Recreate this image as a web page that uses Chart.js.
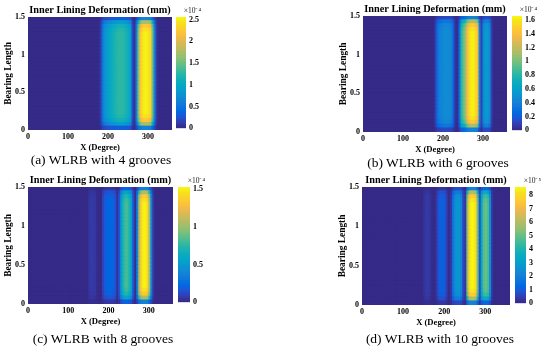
<!DOCTYPE html>
<html><head><meta charset="utf-8">
<script src="https://cdn.jsdelivr.net/npm/chart.js@4.4.1/dist/chart.umd.min.js"></script>
<style>
html,body{margin:0;padding:0;background:#fff;}
#wrap{position:relative;width:550px;height:352px;overflow:hidden;background:#fff;}
#wrap canvas{position:absolute;}
.cap{position:absolute;font-family:"Liberation Serif",serif;font-size:13.5px;color:#000;white-space:nowrap;transform:translate(-50%,-50%);}
</style></head><body><div id="wrap"></div>
<script>
// ---------------- DATA ----------------
const xDegrees = [2.5,7.5,12.5,17.5,22.5,27.5,32.5,37.5,42.5,47.5,52.5,57.5,
  62.5,67.5,72.5,77.5,82.5,87.5,92.5,97.5,102.5,107.5,112.5,117.5,
  122.5,127.5,132.5,137.5,142.5,147.5,152.5,157.5,162.5,167.5,172.5,177.5,
  182.5,187.5,192.5,197.5,202.5,207.5,212.5,217.5,222.5,227.5,232.5,237.5,
  242.5,247.5,252.5,257.5,262.5,267.5,272.5,277.5,282.5,287.5,292.5,297.5,
  302.5,307.5,312.5,317.5,322.5,327.5,332.5,337.5,342.5,347.5,352.5,357.5];
const bearingRowStart = [0,0.05,0.1,0.15,0.2,0.25,0.3,0.35,0.4,0.45,0.5,0.55,0.6,0.65,0.7,
  0.75,0.8,0.85,0.9,0.95,1,1.05,1.1,1.15,1.2,1.25,1.3,1.35,1.4,1.45];
const bearingProfile = [0.25,0.7,0.9,0.97,1,1,1,1,1,1,1,1,1,1,1,
  1,1,1,1,1,1,1,1,1,1,1,0.97,0.9,0.7,0.25];
// deformation along X (colorbar units), one value per 5 degrees
const grooves4 = [0,0,0,0,0,0,0,0,0,0,0,0,
  0,0,0,0,0,0,0,0,0,0,0,0,
  0,0,0,0,0,0,0,0,0,0,0,0,
  0.1,0.5,0.75,0.85,0.95,1.0,1.1,1.15,1.2,1.25,1.25,1.25,
  1.2,1.15,1.05,0.9,0.2,0.05,0.6,1.6,2.2,2.45,2.5,2.5,
  2.45,2.3,1.5,0.6,0.1,0,0,0,0,0,0,0];
const grooves6 = [0,0,0,0,0,0,0,0,0,0,0,0,
  0,0,0,0,0,0,0,0,0,0,0,0,
  0,0,0,0,0,0,0,0,0,0,0,0,
  0.1,0.3,0.38,0.42,0.45,0.47,0.47,0.45,0.4,0.2,0.03,0.02,
  0.3,0.8,0.95,1.1,1.4,1.55,1.62,1.62,1.55,1.4,0.4,0.1,
  0.45,0.55,0.55,0.45,0.1,0,0,0,0,0,0,0];
const grooves8 = [0,0,0,0,0,0,0,0,0,0,0,0,
  0,0,0,0,0,0,0,0,0,0,0,0,
  0,0,0,0,0,0,0.04,0.06,0.06,0.05,0.01,0,
  0,0.1,0.18,0.2,0.22,0.22,0.2,0.15,0.03,0.15,0.5,0.7,
  0.8,0.8,0.72,0.55,0.15,0.02,0.4,1.1,1.4,1.5,1.5,1.4,
  1.0,0.35,0.05,0,0,0,0,0,0,0,0,0];
const grooves10 = [0,0,0,0,0,0,0,0,0,0,0,0,
  0,0,0,0,0,0,0,0,0,0,0,0,
  0,0,0,0,0,0,0.2,0.35,0.35,0.2,0.05,0,
  0.3,0.9,1.1,1.1,1.0,0.4,0.05,0.3,1.6,2.4,2.7,2.7,
  2.2,0.6,0.3,5.5,8.0,8.5,8.5,8.0,5.0,0.8,3.5,4.8,
  5.0,4.6,2.5,0.3,0,0,0,0,0,0,0,0];
const colorbarMax = [2.56, 1.66, 1.53, 8.6];
const colorbarTicks4 = [0,0.5,1,1.5,2,2.5];
const colorbarTicks6 = [0,0.2,0.4,0.6,0.8,1,1.2,1.4,1.6];
const colorbarTicks8 = [0,0.5,1,1.5];
const colorbarTicks10 = [0,1,2,3,4,5,6,7,8];
const colorbarExponent = ['×10⁻⁴','×10⁻⁴','×10⁻⁴','×10⁻⁵'];
const xTickValues = [0,100,200,300];
const yTickValues = [0,0.5,1,1.5];
const plotTitle = 'Inner Lining Deformation (mm)';
const xTitle = 'X (Degree)';
const yTitle = 'Bearing Length';
const captions = ['(a) WLRB with 4 grooves','(b) WLRB with 6 grooves','(c) WLRB with 8 grooves','(d) WLRB with 10 grooves'];

// ---------------- STYLE / LAYOUT ----------------
const SERIF = '"Liberation Serif", "Times New Roman", serif';
const PARULA = [[53,42,135],[53,61,173],[32,83,212],[2,104,225],[13,117,220],[20,129,214],[16,142,210],[7,156,207],[6,167,198],[15,174,185],[37,181,169],[66,187,152],[101,190,134],[135,191,119],[165,190,107],[192,188,96],[217,186,86],[241,185,74],[255,195,55],[250,211,42],[245,228,29],[249,251,14]];
function parula(t){
  t = Math.max(0, Math.min(1, t));
  const f = t*(PARULA.length-1);
  const i = Math.min(Math.floor(f), PARULA.length-2);
  const u = f - i, a = PARULA[i], b = PARULA[i+1];
  return 'rgb(' + [0,1,2].map(k => Math.round(a[k]+(b[k]-a[k])*u)).join(',') + ')';
}
const layouts = [
  {L:28, R:172, T:17, B:130, cbL:176, cbR:186, capX:101, capY:160},
  {L:363,R:507, T:16, B:132, cbL:512, cbR:522, capX:438, capY:163},
  {L:28, R:173, T:187,B:304, cbL:178, cbR:190, capX:103, capY:339},
  {L:362,R:510, T:187,B:305, cbL:515, cbR:526, capX:440, capY:339}
];
const wrap = document.getElementById('wrap');
function makeCanvas(left, top, w, h){
  const c = document.createElement('canvas');
  c.width = w; c.height = h;
  c.style.left = left+'px'; c.style.top = top+'px';
  c.style.width = w+'px'; c.style.height = h+'px';
  wrap.appendChild(c);
  return c;
}
const TITLE_H = 17, YAX_W = 28, XAX_H = 24;
const tickFont = {family:SERIF, size:8, weight:'bold'};
const fmt = v => String(Math.round(v*100)/100);

function heatmap(p, profile, cmax){
  const left = p.L - YAX_W, top = p.T - TITLE_H;
  const w = (p.R - left) + YAX_W;
  const h = (p.B - top) + XAX_H;
  const datasets = bearingRowStart.map((y0, j) => ({
    data: xDegrees.map(x => ({x: x, y: [y0, y0 + 0.05]})),
    backgroundColor: profile.map(v => parula(v*bearingProfile[j]/cmax)),
    borderWidth: 0, inflateAmount: 0.5, barPercentage: 1, categoryPercentage: 1, grouped: false
  }));
  new Chart(makeCanvas(left, top, w, h), {
    type: 'bar',
    data: {datasets},
    options: {
      responsive:false, animation:false, events:[], devicePixelRatio:1,
      layout:{padding:0},
      plugins:{legend:{display:false}, tooltip:{enabled:false},
        title:{display:true, text:plotTitle, color:'#000',
          font:{family:SERIF,size:10.3,weight:'bold',lineHeight:1.2}, padding:{top:4,bottom:0.6}}},
      scales:{
        x:{type:'linear', min:0, max:360, offset:false,
          grid:{display:false, drawTicks:false, offset:false}, border:{display:false},
          afterBuildTicks:s => { s.ticks = xTickValues.map(v => ({value:v})); },
          afterFit:s => { s.height = XAX_H; },
          ticks:{padding:2, color:'#000', font:tickFont, maxRotation:0, autoSkip:false, callback:fmt},
          title:{display:true, text:xTitle, color:'#000', font:{family:SERIF,size:8.6,weight:'bold',lineHeight:1.2}, padding:{top:0,bottom:1}}},
        y:{type:'linear', min:0, max:1.5,
          grid:{display:false, drawTicks:false}, border:{display:false},
          afterBuildTicks:s => { s.ticks = yTickValues.map(v => ({value:v})); },
          afterFit:s => { s.width = YAX_W; },
          ticks:{padding:3, color:'#000', font:tickFont, callback:fmt},
          title:{display:true, text:yTitle, color:'#000', font:{family:SERIF,size:9.4,weight:'bold',lineHeight:1.2}, padding:{top:3,bottom:0}}},
        spacer:{type:'linear', position:'right', min:0, max:1,
          grid:{display:false, drawTicks:false}, border:{display:false},
          ticks:{display:false},
          afterFit:s => { s.width = YAX_W; }}
      }
    }
  });
}

function colorbar(p, cmax, ticks, expText){
  const top = p.T - TITLE_H, left = p.cbL;
  const w = p.cbR + 15 - left;
  const h = p.B - top + 6;
  const N = 64, datasets = [];
  for (let k = 0; k < N; k++) {
    datasets.push({data:[[k*cmax/N, (k+1)*cmax/N]], backgroundColor: parula((k+0.5)/N),
      borderWidth:0, inflateAmount:0.5, barPercentage:1, categoryPercentage:1, grouped:false});
  }
  new Chart(makeCanvas(left, top, w, h), {
    type:'bar',
    data:{labels:[''], datasets},
    options:{
      responsive:false, animation:false, events:[], devicePixelRatio:1,
      layout:{padding:{left:0,right:0,top:0,bottom:6}},
      plugins:{legend:{display:false}, tooltip:{enabled:false},
        title:{display:true, text:expText, align:'end', color:'#222',
          font:{family:SERIF,size:7.5,weight:'normal',lineHeight:1}, padding:{top:7,bottom:2.5}}},
      scales:{
        x:{display:false},
        y:{position:'right', min:0, max:cmax,
          grid:{display:false, drawTicks:false}, border:{display:false},
          afterBuildTicks:s => { s.ticks = ticks.map(v => ({value:v})); },
          afterFit:s => { s.width = w - (p.cbR - p.cbL); },
          ticks:{padding:3, color:'#000', font:tickFont, callback:fmt}}
      }
    }
  });
}

const profiles = [grooves4, grooves6, grooves8, grooves10];
const cbTicks = [colorbarTicks4, colorbarTicks6, colorbarTicks8, colorbarTicks10];
layouts.forEach((p, i) => {
  heatmap(p, profiles[i], colorbarMax[i]);
  colorbar(p, colorbarMax[i], cbTicks[i], colorbarExponent[i]);
  const d = document.createElement('div');
  d.className = 'cap';
  d.style.left = p.capX + 'px';
  d.style.top = p.capY + 'px';
  d.textContent = captions[i];
  wrap.appendChild(d);
});
</script>
</body></html>
